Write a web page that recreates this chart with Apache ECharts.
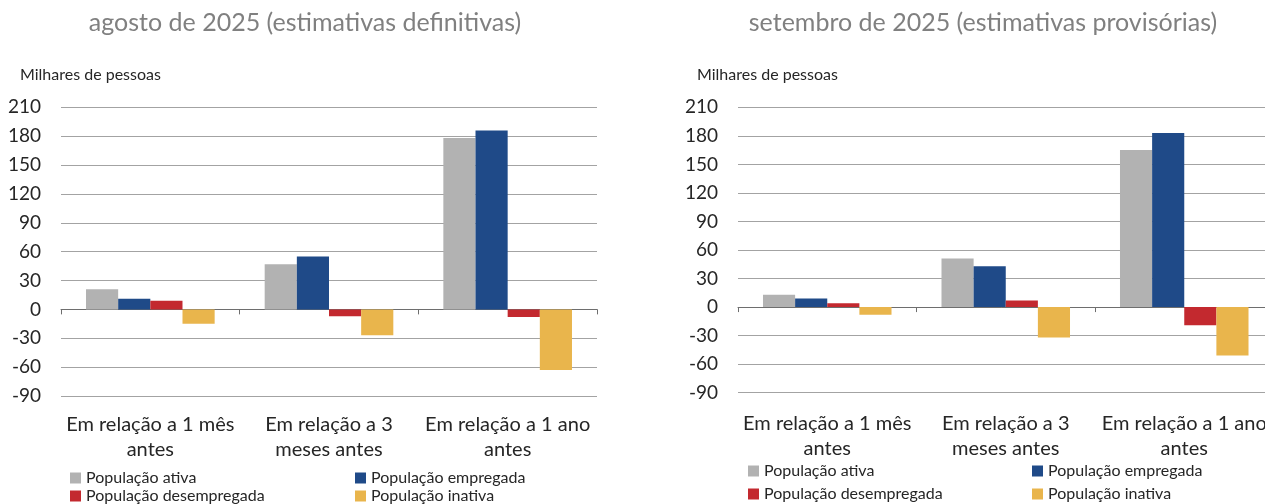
<!DOCTYPE html>
<html><head><meta charset="utf-8">
<script src="https://cdn.jsdelivr.net/npm/echarts@6/dist/echarts.min.js"></script>
<style>html,body{margin:0;padding:0;background:#fff}#c{width:1265px;height:504px}</style>
</head><body><div id="c"></div>
<script>
const categories = ["Em relação a 1 mês\nantes", "Em relação a 3\nmeses antes", "Em relação a 1 ano\nantes"];
const seriesNames = ["População ativa", "População empregada", "População desempregada", "População inativa"];
const colors = ["#b2b2b2", "#1f4a88", "#c3292f", "#e9b54c"];
const titleLeft = "agosto de 2025 (estimativas definitivas)";
const titleRight = "setembro de 2025 (estimativas provisórias)";
const unitLabel = "Milhares de pessoas";
// August (definitive)
const augAtiva = [21, 47, 178];
const augEmpregada = [11, 55, 186];
const augDesempregada = [9, -7, -8];
const augInativa = [-15, -27, -63];
// September (provisional)
const sepAtiva = [13, 51, 165];
const sepEmpregada = [9, 43, 183];
const sepDesempregada = [4, 7, -19];
const sepInativa = [-8, -32, -51];
const yTicks = {min: -90, max: 210, interval: 30};

const FONT = 'Lato';
const chart = echarts.init(document.getElementById('c'), null, {renderer: 'canvas'});

function xAxis(gi, margin) {
  return {
    type: 'category', gridIndex: gi, data: categories,
    axisLine: {onZero: true, lineStyle: {color: '#6e6e6e', width: 1}},
    axisTick: {show: true, length: 5, lineStyle: {color: '#6e6e6e'}},
    axisLabel: {margin: margin, fontFamily: FONT, fontSize: 20, color: '#262626', lineHeight: 25, interval: 0}
  };
}
function yAxis(gi) {
  return {
    type: 'value', gridIndex: gi, min: yTicks.min, max: yTicks.max, interval: yTicks.interval,
    axisLine: {show: false}, axisTick: {show: false},
    axisLabel: {margin: 20, fontFamily: FONT, fontSize: 19, color: '#262626'},
    splitLine: {lineStyle: {color: '#a3a3a3', width: 1}}
  };
}
const dataSets = [[augAtiva, augEmpregada, augDesempregada, augInativa], [sepAtiva, sepEmpregada, sepDesempregada, sepInativa]];
const series = [];
dataSets.forEach((set, gi) => {
  set.forEach((vals, si) => {
    series.push({
      name: seriesNames[si], type: 'bar', xAxisIndex: gi, yAxisIndex: gi, data: vals,
      barGap: '0%', barCategoryGap: '28%', itemStyle: {color: colors[si]}, animation: false
    });
  });
});
const legendPos = [
  [[70, 470], [355, 470], [70, 488], [355, 488]],
  [[748, 463], [1032, 463], [748, 486], [1032, 486]]
];
const legends = [];
legendPos.forEach(pos => {
  pos.forEach((p, i) => {
    legends.push({
      left: p[0], top: p[1], padding: 0, data: [seriesNames[i]], icon: 'rect',
      itemWidth: 11, itemHeight: 11, itemGap: 0, selectedMode: false,
      textStyle: {fontFamily: FONT, fontSize: 16, color: '#262626'}
    });
  });
});

chart.setOption({
  animation: false,
  grid: [
    {left: 61, top: 107.3, width: 536, height: 288.7, containLabel: false, outerBoundsMode: 'none'},
    {left: 738, top: 107.3, width: 535.5, height: 285.4, containLabel: false, outerBoundsMode: 'none'}
  ],
  xAxis: [xAxis(0, 16), xAxis(1, 18)],
  yAxis: [yAxis(0), yAxis(1)],
  legend: legends,
  series: series,
  graphic: [
    {type: 'text', x: 305, y: 23, style: {text: titleLeft, font: '25px ' + FONT, fill: '#808080', textAlign: 'center', textVerticalAlign: 'middle'}},
    {type: 'text', x: 983, y: 23, style: {text: titleRight, font: '25px ' + FONT, fill: '#808080', textAlign: 'center', textVerticalAlign: 'middle'}},
    {type: 'text', x: 20, y: 75, style: {text: unitLabel, font: '16px ' + FONT, fill: '#262626', textAlign: 'left', textVerticalAlign: 'middle'}},
    {type: 'text', x: 697, y: 75, style: {text: unitLabel, font: '16px ' + FONT, fill: '#262626', textAlign: 'left', textVerticalAlign: 'middle'}}
  ]
});
</script></body></html>
